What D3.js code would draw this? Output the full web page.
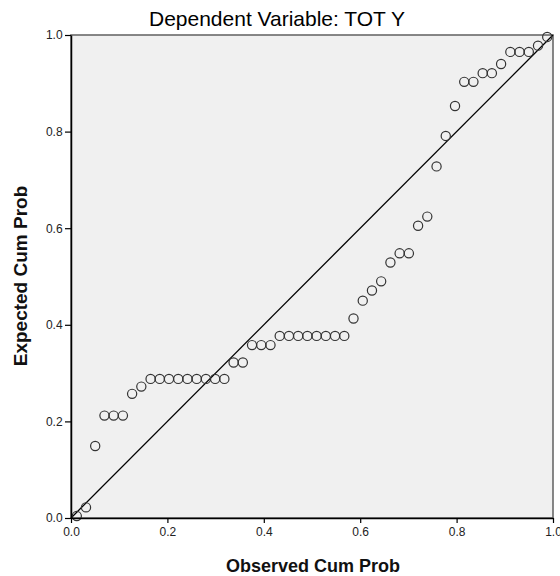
<!DOCTYPE html>
<html><head><meta charset="utf-8">
<script src="https://cdn.jsdelivr.net/npm/d3@7"></script>
<style>body{margin:0;background:#fff;}svg{display:block;font-family:"Liberation Sans",Arial,sans-serif;}</style>
</head><body><svg id="c" width="560" height="576"></svg>
<script>
const title = "Dependent Variable: TOT Y";
const xLabel = "Observed Cum Prob";
const yLabel = "Expected Cum Prob";
const tickValues = [0, 0.2, 0.4, 0.6, 0.8, 1.0];
const observed = [0.0120,0.0311,0.0502,0.0694,0.0885,0.1077,0.1268,0.1459,0.1651,0.1842,0.2033,0.2225,0.2416,0.2608,0.2799,0.2990,0.3182,0.3373,0.3565,0.3756,0.3947,0.4139,0.4330,0.4522,0.4713,0.4904,0.5096,0.5287,0.5478,0.5670,0.5861,0.6053,0.6244,0.6435,0.6627,0.6818,0.7010,0.7201,0.7392,0.7584,0.7775,0.7967,0.8158,0.8349,0.8541,0.8732,0.8923,0.9115,0.9306,0.9498,0.9689,0.9880];
const expected = [0.004,0.022,0.149,0.212,0.212,0.212,0.257,0.272,0.288,0.288,0.288,0.288,0.288,0.288,0.288,0.288,0.288,0.322,0.322,0.358,0.358,0.358,0.377,0.377,0.377,0.377,0.377,0.377,0.377,0.377,0.413,0.450,0.471,0.490,0.529,0.548,0.548,0.605,0.624,0.728,0.791,0.853,0.903,0.903,0.921,0.921,0.940,0.965,0.965,0.965,0.978,0.996];

const svg = d3.select("#c");
const L = 71, R = 553, T = 35, B = 518;
const x = d3.scaleLinear().domain([0,1]).range([L,R]);
const y = d3.scaleLinear().domain([0,1]).range([B,T]);

svg.append("rect").attr("x",L).attr("y",T).attr("width",R-L).attr("height",B-T)
  .attr("fill","#f0f0f0").attr("stroke","#6a6a6a").attr("stroke-width",1.6);

svg.append("line").attr("x1",x(0)).attr("y1",y(0)).attr("x2",x(1)).attr("y2",y(1))
  .attr("stroke","#000").attr("stroke-width",1.3);

svg.append("g").selectAll("circle").data(observed).join("circle")
  .attr("cx",(d)=>x(d)).attr("cy",(d,i)=>y(expected[i])).attr("r",4.6)
  .attr("fill","none").attr("stroke","#333").attr("stroke-width",1.2);

const fmt = d3.format(".1f");
const xa = svg.append("g").attr("transform",`translate(0,${B})`)
  .call(d3.axisBottom(x).tickValues(tickValues).tickFormat(fmt).tickSize(5).tickSizeOuter(0));
const ya = svg.append("g").attr("transform",`translate(${L},0)`)
  .call(d3.axisLeft(y).tickValues(tickValues).tickFormat(fmt).tickSize(6).tickSizeOuter(0));
[xa,ya].forEach(g=>{
  g.select(".domain").attr("stroke","#000").attr("stroke-width",1.5);
  g.selectAll(".tick line").attr("stroke","#000").attr("stroke-width",1.2);
  g.selectAll("text").attr("font-size",12).attr("fill","#222").attr("font-family","Liberation Sans, Arial, sans-serif");
});
xa.selectAll("text").attr("dy","0.85em");
ya.selectAll("text").attr("dx","0.05em");

svg.append("text").attr("x",277).attr("y",26).attr("text-anchor","middle")
  .attr("font-size",21).attr("fill","#000").text(title);
svg.append("text").attr("x",313).attr("y",572).attr("text-anchor","middle")
  .attr("font-size",18).attr("font-weight","bold").attr("fill","#111").text(xLabel);
svg.append("text").attr("transform","translate(27,276) rotate(-90)").attr("text-anchor","middle")
  .attr("font-size",19).attr("font-weight","bold").attr("fill","#111").text(yLabel);
</script></body></html>
